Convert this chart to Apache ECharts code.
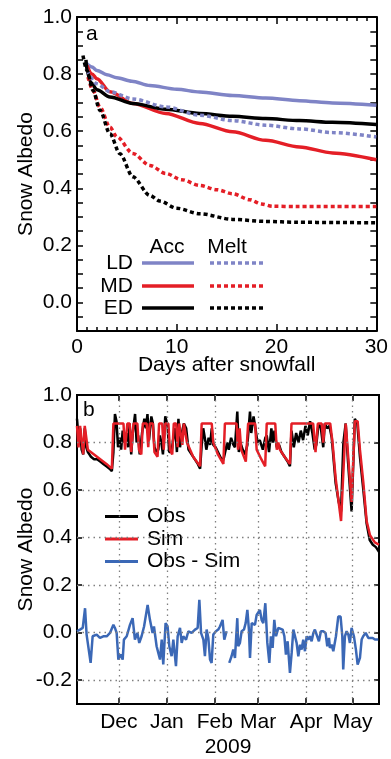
<!DOCTYPE html>
<html><head><meta charset="utf-8">
<script src="https://cdn.jsdelivr.net/npm/echarts@6/dist/echarts.min.js"></script>
<style>html,body{margin:0;padding:0;background:#fff}#c{width:391px;height:759px}</style>
</head><body><div id="c"></div>
<script>
// ---------- Panel a data (days after snowfall, albedo) ----------
const ldAccDays = [0.9,1.5,2,3,4,5.5,7.3,10,12.3,15.6,18.9,22.3,25.6,30];
const ldAccVals = [0.840,0.825,0.813,0.798,0.787,0.775,0.760,0.747,0.737,0.725,0.716,0.707,0.699,0.691];
const mdAccDays = [1.0,1.5,2,3.3,5.6,8.9,12.3,15.6,18.9,22.3,25.6,30];
const mdAccVals = [0.830,0.800,0.784,0.738,0.697,0.662,0.627,0.598,0.568,0.545,0.524,0.500];
const edAccDays = [0.9,1.0,1.4,2,3.3,5.6,8.9,12.3,15.6,18.9,22.3,25.6,30];
const edAccVals = [0.850,0.810,0.770,0.745,0.720,0.697,0.677,0.662,0.652,0.644,0.637,0.631,0.623];
const ldMeltDays = [1,2,3.3,5.6,8.9,12.3,15.6,18.9,22.3,25.6,30];
const ldMeltVals = [0.813,0.766,0.738,0.713,0.685,0.656,0.637,0.621,0.608,0.595,0.580];
const mdMeltDays = [1.1,1.6,2.3,3.3,4,5.6,7.3,8.9,10.5,12.3,14,15.6,17.3,18.5,19.6,22,26,30];
const mdMeltVals = [0.790,0.743,0.684,0.614,0.580,0.522,0.480,0.452,0.430,0.410,0.395,0.381,0.360,0.345,0.337,0.336,0.336,0.336];
const edMeltDays = [0.6,1,1.6,2.3,3.3,4.3,5.6,7.3,8.3,10,12.3,15.6,18.9,22,26,30];
const edMeltVals = [0.865,0.813,0.743,0.673,0.591,0.521,0.440,0.375,0.355,0.330,0.311,0.291,0.284,0.281,0.280,0.279];
const xTicksA = [0,10,20,30];
const legendRowsA = ['LD','MD','ED'];
const legendHeadA = ['Acc','Melt'];

// ---------- Panel b data (days since 1 Nov 2008, albedo) ----------
const monthDays = [30,61,92,120,151,181];
const monthNames = ['Dec','Jan','Feb','Mar','Apr','May'];
const yTicksB = [-0.2,0,0.2,0.4,0.6,0.8,1.0];
const yGridB = [-0.2,0,0.2,0.4,0.6,0.8];
const obsDays = [3,3.5,4,5,6,7,8,9,10,11,12,14,16,18,20,22,24,25.5,26.5,27.5,28.5,29.5,30.5,31.5,32.5,33.5,35,36,37,38,39,40.5,41.5,42.5,43.5,45,46.5,47.5,48.5,49.5,51,52,53,54.5,55.5,56.5,57.5,58.5,60,61.5,62.5,64,65,66.5,67.5,68.5,69.5,71,72,73.5,75,77,79,81,82.5,83.5,84.5,85.5,86.5,88,89,90,91,92.5,94,95.5,97,98,99,100,101,102.5,104,105,106.5,107.5,108.5,110,111.5,113,114.7,115.5,117,118,119.5,121,123,124.6,125.5,127,128.5,129.5,130.5,132,133.5,135,137,139,140.5,141.5,143,144.5,146,147.5,149,150.5,152,153.5,155,156.5,157.5,159,160.5,162,163,164.5,166,167.5,170,172,173.5,175,176.5,178,180.3,182.4,184,185.7,187.9,190,192,194,196,198];
const obsVals = [0.90,0.86,0.79,0.86,0.77,0.75,0.86,0.78,0.76,0.75,0.74,0.73,0.73,0.72,0.71,0.70,0.69,0.68,0.76,0.92,0.89,0.78,0.82,0.77,0.85,0.80,0.84,0.78,0.88,0.75,0.84,0.92,0.80,0.83,0.75,0.84,0.90,0.86,0.92,0.81,0.91,0.88,0.78,0.76,0.77,0.83,0.80,0.75,0.91,0.87,0.76,0.76,0.81,0.86,0.76,0.90,0.78,0.85,0.88,0.86,0.77,0.75,0.73,0.71,0.69,0.79,0.86,0.82,0.77,0.82,0.79,0.86,0.79,0.78,0.76,0.74,0.72,0.74,0.77,0.80,0.77,0.82,0.79,0.78,0.93,0.76,0.80,0.77,0.75,0.79,0.93,0.84,0.91,0.87,0.80,0.81,0.77,0.82,0.83,0.76,0.86,0.80,0.85,0.78,0.79,0.76,0.74,0.72,0.70,0.85,0.78,0.84,0.80,0.85,0.81,0.87,0.83,0.89,0.84,0.77,0.79,0.88,0.86,0.78,0.88,0.86,0.87,0.82,0.63,0.55,0.51,0.80,0.88,0.72,0.51,0.90,0.88,0.74,0.60,0.46,0.39,0.37,0.36,0.34];
const simDays = [3,4,5,7,8,10,14,18,22,25.5,26.5,33,34,35.5,37,38,39.5,42,43,44.5,45.5,48,49,50,52,53,55,56,58,59,60,62,63,64.5,65.5,67,68,69,70,71,72,73,74,78,82.5,83.5,90,91,94,97.5,98.5,106,107,108,109,112,113.5,118,119,122,124.5,125.5,131,132,133,134,137,140.5,141.5,155.5,157,158.5,161,162,163,166.5,168,170,173.5,176.5,178,180.3,182.4,184.2,185.7,187.9,190,192.2,195.3,198];
const simVals = [0.87,0.78,0.87,0.75,0.87,0.77,0.75,0.73,0.71,0.69,0.88,0.88,0.77,0.88,0.88,0.76,0.88,0.88,0.77,0.75,0.88,0.88,0.78,0.88,0.88,0.76,0.74,0.88,0.88,0.77,0.88,0.88,0.77,0.75,0.88,0.88,0.78,0.88,0.88,0.79,0.88,0.88,0.80,0.74,0.70,0.88,0.88,0.80,0.75,0.71,0.88,0.88,0.77,0.86,0.77,0.72,0.88,0.88,0.77,0.73,0.70,0.88,0.88,0.77,0.80,0.77,0.74,0.71,0.88,0.88,0.76,0.88,0.88,0.80,0.88,0.88,0.80,0.65,0.47,0.88,0.75,0.55,0.89,0.89,0.77,0.63,0.47,0.41,0.38,0.37];
const diffDays = [3.0,4.9,6.7,8.2,9.2,10.3,11.8,13.1,15.7,17.8,20.0,22.2,24.3,26.5,27.5,28.6,29.7,31.2,32.5,33.3,35.1,37.2,38.9,40.4,42.0,43.2,44.7,46.3,48.6,50.1,51.8,52.7,54.4,55.5,56.6,57.7,58.7,60.2,61.5,62.6,64.1,65.2,66.9,68.0,69.5,70.6,71.6,73.4,74.9,77.0,79.2,80.9,82.0,83.1,84.6,85.6,86.7,87.8,88.9,89.9,91.0,92.7,94.2,95.3,97.0,98.1,99.6,100.5,101.3,102.8,103.9,105.0,106.5,107.1,108.2,109.3,110.8,111.9,113.0,114.0,114.7,115.8,116.8,117.9,119.0,120.1,121.1,122.2,123.3,124.6,125.9,127.2,128.2,129.3,130.4,131.5,133.0,134.1,135.8,136.9,137.9,139.0,140.5,141.6,142.7,143.7,144.8,145.9,147.0,148.0,149.1,150.2,151.3,152.3,153.4,154.5,155.6,156.6,157.7,159.2,160.5,162.0,163.5,164.6,165.7,166.3,167.4,168.5,170.2,171.7,173.2,174.3,174.9,176.0,177.1,178.2,179.2,180.3,181.8,183.1,184.2,185.7,186.8,187.8,189.4,191.1,192.2,193.9,195.4,197.5];
const diffVals = [0.006,0.013,0.020,0.103,-0.008,-0.015,-0.127,-0.015,-0.008,-0.022,-0.015,-0.015,-0.001,0.033,0.020,-0.001,-0.113,-0.092,-0.113,-0.029,-0.015,0.033,0.061,-0.029,-0.001,-0.043,-0.015,0.026,0.117,0.054,-0.001,0.026,-0.057,-0.085,-0.113,-0.029,-0.134,0.040,0.026,-0.057,-0.099,-0.029,-0.141,-0.015,0.020,-0.043,-0.015,-0.029,0.006,-0.001,0.013,0.020,0.138,-0.001,-0.029,-0.099,0.013,-0.022,-0.113,-0.127,-0.008,0.006,0.013,0.026,0.054,-0.029,0.006,null,-0.127,-0.099,-0.071,-0.106,0.061,-0.057,-0.043,0.006,0.013,0.040,0.096,0.013,-0.106,0.040,0.047,0.033,0.075,0.068,0.096,0.054,0.040,0.124,-0.043,-0.127,-0.015,-0.064,0.054,-0.015,0.020,0.020,0.013,-0.015,-0.092,-0.036,-0.169,-0.085,0.013,0.006,-0.043,-0.099,-0.050,-0.071,-0.029,-0.078,-0.015,-0.029,-0.015,-0.036,-0.001,0.013,0.006,-0.036,0.006,0.006,-0.001,-0.057,-0.022,-0.064,-0.050,-0.078,-0.015,0.068,0.068,-0.015,-0.155,-0.015,0.006,-0.008,-0.043,0.020,-0.015,-0.071,-0.134,-0.106,-0.029,-0.015,-0.001,-0.022,-0.029,-0.022,-0.029,-0.029];

// ---------- styling ----------
const FONT = '"Liberation Sans", Arial, Helvetica, sans-serif';
const FS = 21;
const C_LD = '#7f84c6', C_MD = '#e41e26', C_ED = '#000000', C_BLUE = '#3b68b6';
const DOT = [4, 3];

const pair = (xs, ys) => xs.map((x, i) => [x, ys[i]]);
const lbl = {color:'#000', fontSize:FS, fontFamily:FONT};
const axLine = {show:true, onZero:false, lineStyle:{color:'#000', width:2}};
const tickStyle = {color:'#000', width:1.5};

function lineA(name, xs, ys, color, dotted) {
  return {name, type:'line', xAxisIndex:0, yAxisIndex:0, data:pair(xs, ys),
    showSymbol:false, symbol:'none', smooth:0.3, smoothMonotone:'x', silent:true,
    lineStyle:{color, width:3.5, type: dotted ? DOT : 'solid', cap:'butt'}};
}

const chart = echarts.init(document.getElementById('c'));
const graphics = [];
graphics.push({type:'text', x:86, y:34, style:{text:'a', font:FS+'px '+FONT, fill:'#000', textVerticalAlign:'middle'}});
graphics.push({type:'text', x:83, y:410, style:{text:'b', font:FS+'px '+FONT, fill:'#000', textVerticalAlign:'middle'}});
const headX = [167, 227];
legendHeadA.forEach((t, i) => graphics.push({type:'text', x:headX[i], y:247,
  style:{text:t, font:FS+'px '+FONT, fill:'#000', textAlign:'center', textVerticalAlign:'middle'}}));
const rowColors = [C_LD, C_MD, C_ED];
const rowY = [263, 286, 308];
legendRowsA.forEach((t, i) => {
  graphics.push({type:'text', x:133, y:rowY[i], style:{text:t, font:FS+'px '+FONT, fill:'#000', textAlign:'right', textVerticalAlign:'middle'}});
  graphics.push({type:'line', shape:{x1:142, y1:rowY[i], x2:194, y2:rowY[i]}, style:{stroke:rowColors[i], lineWidth:3.5}});
  graphics.push({type:'line', shape:{x1:210, y1:rowY[i], x2:264, y2:rowY[i]}, style:{stroke:rowColors[i], lineWidth:3.5, lineDash:DOT}});
});

const gridLineStyle = {color:'#808080', width:1.3, type:[1.5,4]};

const option = {
  animation:false,
  backgroundColor:'#fff',
  textStyle:{fontFamily:FONT},
  grid:[
    {left:77, top:17, width:301, height:314},
    {left:77, top:395, width:302, height:311, show:true, borderColor:'#000', borderWidth:2, backgroundColor:'transparent'}
  ],
  xAxis:[
    {gridIndex:0, type:'value', min:0, max:30, interval:10, position:'bottom',
     axisLine:axLine, axisTick:{inside:true, length:7, lineStyle:tickStyle},
     minorTick:{show:true, splitNumber:10, length:4, lineStyle:tickStyle},
     axisLabel:Object.assign({margin:6, formatter:v => xTicksA.includes(v) ? String(v) : ''}, lbl),
     splitLine:{show:false},
     name:'Days after snowfall', nameLocation:'middle', nameGap:24, nameMoveOverlap:false, nameTextStyle:lbl},
    {gridIndex:0, type:'value', min:0, max:30, interval:10, position:'top',
     axisLine:axLine, axisTick:{inside:true, length:7, lineStyle:tickStyle},
     minorTick:{show:true, splitNumber:10, length:4, lineStyle:tickStyle},
     axisLabel:{show:false}, splitLine:{show:false}},
    {gridIndex:1, type:'value', min:3, max:198, position:'bottom',
     axisLine:axLine,
     axisTick:{inside:true, length:6, customValues:monthDays, lineStyle:tickStyle},
     axisLabel:Object.assign({margin:8, customValues:monthDays,
       formatter:v => { const k = monthDays.indexOf(v); return k >= 0 ? monthNames[k] : ''; }}, lbl),
     splitLine:{show:false},
     name:'2009', nameLocation:'middle', nameGap:33, nameMoveOverlap:false, nameTextStyle:lbl},
    {gridIndex:1, type:'value', min:3, max:198, position:'top',
     axisLine:axLine,
     axisTick:{inside:true, length:6, customValues:monthDays, lineStyle:tickStyle},
     axisLabel:{show:true, customValues:monthDays, formatter:() => ''}, splitLine:{show:false}}
  ],
  yAxis:[
    {gridIndex:0, type:'value', min:-0.1, max:1.0, interval:0.05, position:'left',
     axisLine:axLine, axisTick:{inside:true, length:6, lineStyle:tickStyle},
     axisLabel:Object.assign({margin:5, formatter:v => { const r = Math.round(v*20); return (r >= 0 && r % 4 === 0) ? (r/20).toFixed(1) : ''; }}, lbl),
     splitLine:{show:false},
     name:'Snow Albedo', nameLocation:'middle', nameGap:40, nameMoveOverlap:false, nameTextStyle:lbl},
    {gridIndex:0, type:'value', min:-0.1, max:1.0, interval:0.05, position:'right',
     axisLine:axLine, axisTick:{inside:true, length:6, lineStyle:tickStyle},
     axisLabel:{show:false}, splitLine:{show:false}},
    {gridIndex:1, type:'value', min:-0.3, max:1.0, position:'left',
     axisLine:axLine, axisTick:{inside:true, length:5, customValues:yTicksB, lineStyle:tickStyle},
     axisLabel:Object.assign({margin:5, customValues:yTicksB, formatter:v => v.toFixed(1)}, lbl),
     splitLine:{show:false},
     name:'Snow Albedo', nameLocation:'middle', nameGap:40, nameMoveOverlap:false, nameTextStyle:lbl},
    {gridIndex:1, type:'value', min:-0.3, max:1.0, position:'right',
     axisLine:axLine, axisTick:{inside:true, length:5, customValues:yTicksB, lineStyle:tickStyle},
     axisLabel:{show:true, customValues:yTicksB, formatter:() => ''}, splitLine:{show:false}}
  ],
  legend:{
    data:['Obs','Sim','Obs - Sim'], orient:'vertical', left:105, top:506, padding:0,
    icon:'rect', itemWidth:33, itemHeight:3, itemGap:1.5, selectedMode:false,
    textStyle:{color:'#000', fontSize:FS, fontFamily:FONT, lineHeight:21, padding:[0,0,0,4]}
  },
  graphic:{elements:graphics},
  series:[
    {name:'grid-b', type:'line', xAxisIndex:2, yAxisIndex:2, data:pair(obsDays.slice(0,1), obsVals.slice(0,1)),
     silent:true, z:1, showSymbol:false, symbol:'none', lineStyle:{width:0, opacity:0},
     markLine:{silent:true, symbol:['none','none'], label:{show:false}, animation:false,
       lineStyle:gridLineStyle, emphasis:{disabled:true},
       data: monthDays.map(d => ({xAxis:d})).concat(yGridB.map(v => ({yAxis:v})))}},
    lineA('LD Acc', ldAccDays, ldAccVals, C_LD, false),
    lineA('MD Acc', mdAccDays, mdAccVals, C_MD, false),
    lineA('ED Acc', edAccDays, edAccVals, C_ED, false),
    lineA('LD Melt', ldMeltDays, ldMeltVals, C_LD, true),
    lineA('MD Melt', mdMeltDays, mdMeltVals, C_MD, true),
    lineA('ED Melt', edMeltDays, edMeltVals, C_ED, true),
    {name:'Obs', type:'line', xAxisIndex:2, yAxisIndex:2, data:pair(obsDays, obsVals), z:3,
     showSymbol:false, symbol:'none', silent:true, color:C_ED, lineStyle:{color:C_ED, width:2.5}},
    {name:'Sim', type:'line', xAxisIndex:2, yAxisIndex:2, data:pair(simDays, simVals), z:4,
     showSymbol:false, symbol:'none', silent:true, color:C_MD, lineStyle:{color:C_MD, width:2.5}},
    {name:'Obs - Sim', type:'line', xAxisIndex:2, yAxisIndex:2, data:pair(diffDays, diffVals), z:4,
     showSymbol:false, symbol:'none', silent:true, connectNulls:false, color:C_BLUE, lineStyle:{color:C_BLUE, width:2.5}}
  ]
};
chart.setOption(option);
</script></body></html>
